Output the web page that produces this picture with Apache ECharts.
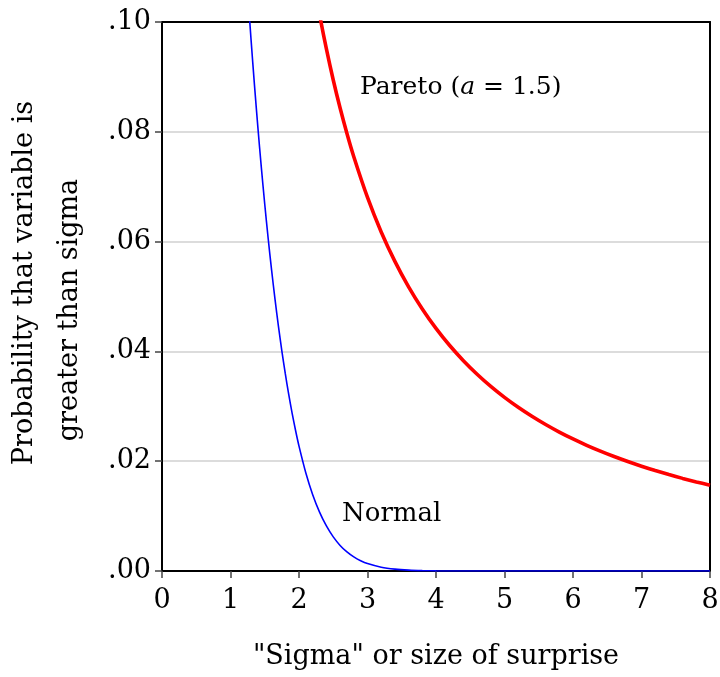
<!DOCTYPE html>
<html>
<head>
<meta charset="utf-8">
<script src="https://cdn.jsdelivr.net/npm/echarts@6/dist/echarts.min.js"></script>
<style>html,body{margin:0;padding:0;background:#fff;}#c{width:720px;height:677px;}</style>
</head>
<body>
<div id="c"></div>
<script>
// x values (sigma) and tail probabilities
const normalX = [1.2,1.25,1.3,1.35,1.4,1.45,1.5,1.55,1.6,1.65,1.7,1.75,1.8,1.85,1.9,1.95,2.0,2.1,2.2,2.3,2.4,2.5,2.6,2.7,2.8,2.9,3.0,3.2,3.4,3.6,3.8,4.0,4.5,5,6,7,8];
const normalY = [0.11507,0.10565,0.09680,0.08851,0.08076,0.07353,0.06681,0.06057,0.05480,0.04947,0.04457,0.04006,0.03593,0.03216,0.02872,0.02559,0.02275,0.01786,0.01390,0.01072,0.00820,0.00621,0.00466,0.00347,0.00256,0.00187,0.00135,0.00069,0.00034,0.00016,0.00007,0.00003,0.000003,0,0,0,0];
const paretoX = [2.2,2.3,2.4,2.5,2.6,2.7,2.8,3.0,3.2,3.4,3.6,3.8,4.0,4.2,4.4,4.6,4.8,5.0,5.2,5.4,5.6,5.8,6.0,6.2,6.4,6.6,6.8,7.0,7.2,7.4,7.6,7.8,8.0];
const paretoY = [0.10835,0.10136,0.09509,0.08944,0.08433,0.07969,0.07546,0.06804,0.06176,0.05640,0.05176,0.04773,0.04419,0.04107,0.03831,0.03584,0.03362,0.03162,0.02982,0.02818,0.02668,0.02531,0.02406,0.02290,0.02184,0.02085,0.01994,0.01909,0.01830,0.01756,0.01687,0.01623,0.01563];
const xTicks = [0,1,2,3,4,5,6,7,8];
const yTicks = [0,0.02,0.04,0.06,0.08,0.10];
const xTitle = '"Sigma" or size of surprise';
const yTitleLine1 = 'Probability that variable is';
const yTitleLine2 = 'greater than sigma';

const FONT = '"DejaVu Serif", serif';
const FS = 27;
const chart = echarts.init(document.getElementById('c'), null, {renderer:'canvas'});
const zip = (xs, ys) => xs.map((x,i)=>[x, ys[i]]);
const frameAxis = {
  show:true,
  axisLine:{show:true,onZero:false,lineStyle:{color:'#000',width:2}},
  axisTick:{show:false},axisLabel:{show:false},splitLine:{show:false},z:1
};
chart.setOption({
  animation:false,
  backgroundColor:'#fff',
  textStyle:{fontFamily:FONT},
  grid:{left:162,right:10,top:22,bottom:106,show:false,containLabel:false,outerBoundsMode:'none'},
  xAxis:[{
    type:'value',min:xTicks[0],max:xTicks[xTicks.length-1],interval:1,position:'bottom',z:1,
    axisLine:{show:true,onZero:false,lineStyle:{color:'#000',width:2}},
    axisTick:{show:true,length:7,lineStyle:{color:'#444',width:1.5}},
    axisLabel:{color:'#000',fontSize:FS,fontFamily:FONT,margin:16},
    splitLine:{show:false},
    name:xTitle,nameLocation:'middle',nameGap:72,
    nameTextStyle:{color:'#000',fontSize:FS,fontFamily:FONT,verticalAlign:'top'}
  },Object.assign({type:'value',min:xTicks[0],max:xTicks[xTicks.length-1],position:'top'},frameAxis)],
  yAxis:[{
    type:'value',min:yTicks[0],max:yTicks[yTicks.length-1],interval:0.02,position:'left',z:1,
    axisLine:{show:true,lineStyle:{color:'#000',width:2}},
    axisTick:{show:true,length:7,lineStyle:{color:'#444',width:1.5}},
    axisLabel:{color:'#000',fontSize:FS,fontFamily:FONT,margin:11,
      formatter:v=>v.toFixed(2).replace(/^0/,'')},
    splitLine:{show:true,showMinLine:false,showMaxLine:false,lineStyle:{color:'#d0d0d0',width:1.5}},
    name:'{a|'+yTitleLine1+'}\n{b|'+yTitleLine2+'}',nameLocation:'middle',nameGap:70,nameRotate:90,
    nameTextStyle:{color:'#000',fontSize:FS,fontFamily:FONT,lineHeight:45,align:'center',
      rich:{
        a:{fontSize:FS,fontFamily:FONT,color:'#000',lineHeight:45,align:'center',padding:[0,0,0,27]},
        b:{fontSize:FS,fontFamily:FONT,color:'#000',lineHeight:45,align:'center',padding:[0,27,0,0]}
      }}
  },Object.assign({type:'value',min:yTicks[0],max:yTicks[yTicks.length-1],position:'right'},frameAxis)],
  series:[
    {type:'line',name:'Normal',data:zip(normalX,normalY),showSymbol:false,smooth:0.3,clip:true,z:3,
     lineStyle:{color:'#0000ff',width:1.6}},
    {type:'line',name:'Pareto',data:zip(paretoX,paretoY),showSymbol:false,smooth:0.3,clip:true,z:3,
     lineStyle:{color:'#ff0000',width:3.6}}
  ],
  graphic:[
    {type:'text',left:360,top:75,style:{
      text:'Pareto ({i|a} = 1.5)',fill:'#000',font:'25px '+FONT,
      rich:{i:{fontStyle:'italic',fontSize:25,fontFamily:FONT,fill:'#000'}}}},
    {type:'text',left:342,top:501,style:{text:'Normal',fill:'#000',font:'26px '+FONT}}
  ]
});
</script>
</body>
</html>
